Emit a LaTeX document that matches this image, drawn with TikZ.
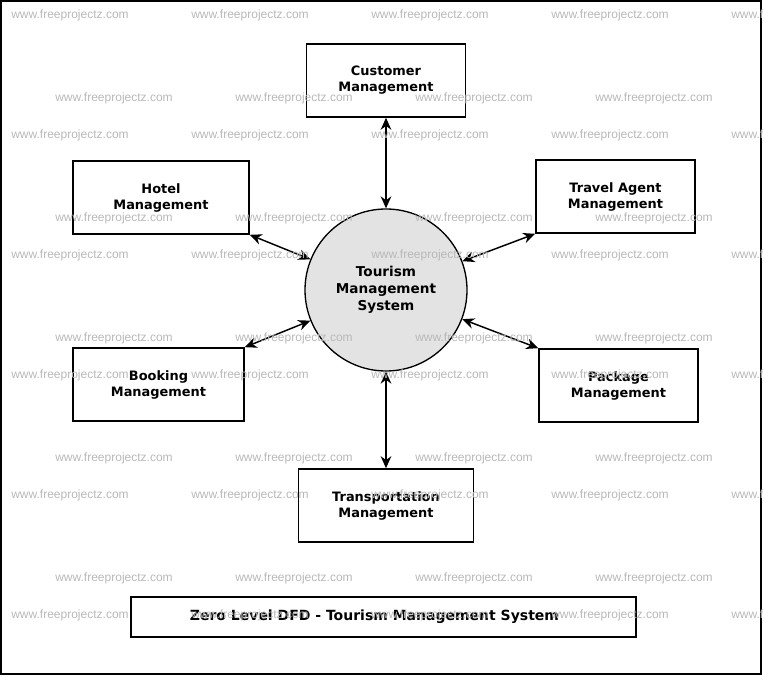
\documentclass[tikz,border=0pt]{standalone}
\usepackage{fontspec}
\setmainfont{DejaVu Sans}
\newfontfamily\wmfont{Liberation Sans}
\usetikzlibrary{arrows.meta}
\definecolor{procfill}{HTML}{E3E3E3}
\definecolor{wmgray}{HTML}{B8B8B8}
\begin{document}
\begin{tikzpicture}[x=0.75pt,y=-0.75pt,
    entity/.style={draw,line width=1.2pt,minimum height=54.75pt,align=center,font=\fontsize{9.7}{12}\selectfont\bfseries},
    process/.style={draw,circle,line width=1pt,fill=procfill,minimum size=121.5pt,inner sep=0pt,align=center,font=\fontsize{10.2}{12.8}\selectfont\bfseries},
    flow/.style={{Stealth[length=9pt,width=8pt]}-{Stealth[length=9pt,width=8pt]},line width=1.1pt},
    wm/.style={text=wmgray,font=\wmfont\fontsize{9}{11}\selectfont}]
            \useasboundingbox (0,0) rectangle (764,677);
            % Outer frame
            \draw[line width=1.5pt] (1,1) rectangle (761,674);

            % Central process
            \node[process] (tms) at (386,290) {Tourism\\Management\\System};

            % External entities
            \node[entity,minimum width=119.25pt] (cust) at (386,80.5) {Customer\\Management};
            \node[entity,minimum width=132pt] (hotel) at (161,197.5) {Hotel\\Management};
            \node[entity,minimum width=119.25pt] (agent) at (615.5,196.5) {Travel Agent\\Management};
            \node[entity,minimum width=128.25pt] (book) at (158.5,384.5) {Booking\\Management};
            \node[entity,minimum width=119.25pt] (pack) at (618.5,385.5) {Package\\Management};
            \node[entity,minimum width=131.25pt] (trans) at (386,505.5) {Transportation\\Management};

            % Data flows
            \draw[flow] (cust) -- (tms);
            \draw[flow] (hotel.south east) -- (tms);
            \draw[flow] (agent.south west) -- (tms);
            \draw[flow] (book.north east) -- (tms);
            \draw[flow] (pack.north west) -- (tms);
            \draw[flow] (trans) -- (tms);

            % Title
            \node[draw,line width=1.2pt,minimum width=378.75pt,minimum height=30pt,font=\fontsize{10.5}{12}\selectfont\bfseries] (title) at (383.5,617) {Zero Level DFD - Tourism Management System\hspace*{13.5pt}};

            % Watermarks
            \begin{scope}
                \clip (0,0) rectangle (764,677);
                \foreach \y in {15,135,255,375,495,615} {
                    \foreach \x in {70,250,430,610,790} {
                        \node[wm] at (\x,\y) {www.freeprojectz.com};
                    }
                }
                \foreach \y in {98,218,338,458,578} {
                    \foreach \x in {114,294,474,654} {
                        \node[wm] at (\x,\y) {www.freeprojectz.com};
                    }
                }
            \end{scope}
        \end{tikzpicture}
\end{document}
